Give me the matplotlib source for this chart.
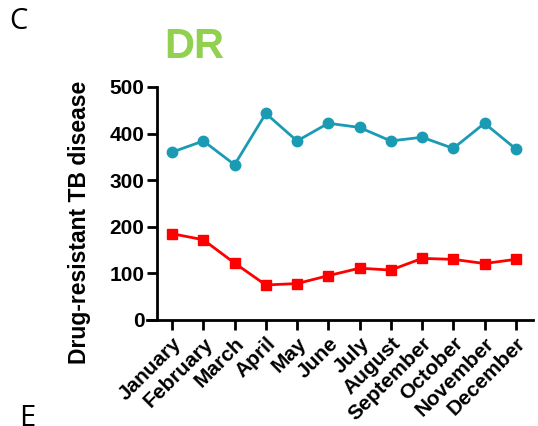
import matplotlib.pyplot as plt

months = ["January", "February", "March", "April", "May", "June", "July",
          "August", "September", "October", "November", "December"]
# monthly counts, two series
series_blue = [360, 384, 333, 443, 384, 422, 413, 384, 392, 368, 422, 367]
series_red = [185, 172, 122, 75, 78, 95, 111, 107, 132, 130, 121, 130]
yticks = [0, 100, 200, 300, 400, 500]

plt.rcParams['font.family'] = ['Liberation Sans', 'DejaVu Sans']

fig = plt.figure(figsize=(5.38, 4.26), dpi=100)
ax = fig.add_axes([0.292, 0.249, 0.698, 0.547])

x = list(range(len(months)))
ax.plot(x, series_blue, color="#1b9bb3", lw=2, marker="o", ms=7.5, clip_on=False)
ax.plot(x, series_red, color="#ff0000", lw=2, marker="s", ms=7.5, clip_on=False)

ax.set_xlim(-0.48, 11.54)
ax.set_ylim(0, 500)
ax.set_yticks(yticks)
ax.set_xticks(x)
ax.set_xticklabels(months, rotation=45, ha="right", rotation_mode="anchor",
                   fontsize=15, fontweight="bold")
for lab in ax.get_yticklabels():
    lab.set_fontsize(15)
    lab.set_fontweight("bold")

ax.spines["top"].set_visible(False)
ax.spines["right"].set_visible(False)
ax.spines["left"].set_linewidth(2)
ax.spines["bottom"].set_linewidth(2)
ax.spines["bottom"].set_bounds(-0.8, 11.54)
ax.tick_params(axis="both", width=2, length=7, color="black")
ax.tick_params(axis="x", pad=3)
ax.tick_params(axis="y", pad=2)

ax.set_ylabel("Drug-resistant TB disease", fontsize=16.5, fontweight="bold")
ax.yaxis.set_label_coords(-0.175, 0.42)

fig.text(0.361, 0.89, "DR", color="#92d050", fontsize=30,
         fontweight="bold", ha="center", va="center")
fig.text(0.018, 0.95, "C", fontsize=21, ha="left", va="center", family="Open Sans")
fig.text(0.035, 0.052, "E", fontsize=21, ha="left", va="top", family="Open Sans")

fig.savefig("out.png", dpi=100)
